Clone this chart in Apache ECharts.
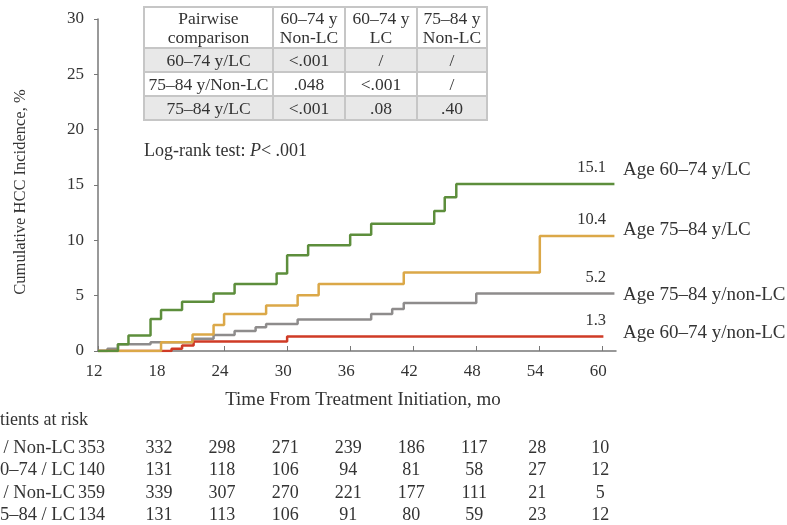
<!DOCTYPE html>
<html>
<head>
<meta charset="utf-8">
<title>Cumulative HCC Incidence</title>
<script src="https://cdn.jsdelivr.net/npm/echarts@6.0.0/dist/echarts.min.js"></script>
<style>
  html, body { margin: 0; padding: 0; background: #fff; }
  #container { width: 787px; height: 525px; }
</style>
</head>
<body>
<div id="container"></div>
<script type="text/javascript">

// x axis ticks, months
var months = [12, 18, 24, 30, 36, 42, 48, 54, 60];

// step curves: time of each step (mo) and cumulative incidence after it (%)
var lc6074T = [12, 13.9, 14.9, 17, 18, 20, 23, 25, 29, 30, 32, 36, 38, 44, 45, 46.1, 61.15];
var lc6074V = [0, 0.6, 1.4, 2.9, 3.7, 4.45, 5.2, 6.05, 7.0, 8.65, 9.55, 10.5, 11.5, 12.65, 13.9, 15.1, 15.1];
var lc7584T = [12, 18, 21, 23, 24, 28, 31, 33, 41.1, 54.05, 61.15];
var lc7584V = [0, 0.78, 1.5, 2.35, 3.35, 4.12, 5.03, 6.06, 7.1, 10.4, 10.4];
var non7584T = [12, 12.9, 13.9, 17, 21, 23, 25, 27, 28, 31, 38, 40, 41.1, 48, 61.15];
var non7584V = [0, 0.2, 0.6, 0.8, 1.1, 1.45, 1.8, 2.15, 2.45, 2.85, 3.35, 3.8, 4.33, 5.2, 5.2];
var non6074T = [12, 19, 20, 21.1, 30, 60.1];
var non6074V = [0, 0.2, 0.5, 0.85, 1.3, 1.3];

var groupNames = ['Age 60–74 y/LC', 'Age 75–84 y/LC', 'Age 75–84 y/non-LC', 'Age 60–74 y/non-LC'];
var endValues = ['15.1', '10.4', '5.2', '1.3'];

// patients at risk
var riskGroups = ['60–74 / Non-LC', '60–74 / LC', '75–84 / Non-LC', '75–84 / LC'];
var riskNon6074 = [353, 332, 298, 271, 239, 186, 117, 28, 10];
var riskLC6074 = [140, 131, 118, 106, 94, 81, 58, 27, 12];
var riskNon7584 = [359, 339, 307, 270, 221, 177, 111, 21, 5];
var riskLC7584 = [134, 131, 113, 106, 91, 80, 59, 23, 12];

// pairwise comparison table
var pairHeader = ['Pairwise\ncomparison', '60–74 y\nNon-LC', '60–74 y\nLC', '75–84 y\nNon-LC'];
var pairRows = ['60–74 y/LC', '75–84 y/Non-LC', '75–84 y/LC'];
var pairValues = [
    ['<.001', '/', '/'],
    ['.048', '<.001', '/'],
    ['<.001', '.08', '.40']
];

var FONT = 'Liberation Serif';
var TXT = '#333';
var colors = ['#5d8e3c', '#dba848', '#8e8c8c', '#cf3b26'];

function zip(t, v) {
    var out = [];
    for (var i = 0; i < t.length; i++) out.push([t[i], v[i]]);
    return out;
}

var curves = [zip(lc6074T, lc6074V), zip(lc7584T, lc7584V), zip(non7584T, non7584V), zip(non6074T, non6074V)];
// draw order: grey, red, orange, green on top
var drawOrder = [2, 3, 1, 0];

var dom = document.getElementById('container');
var myChart = echarts.init(dom, null, { renderer: 'canvas' });

var series = [];
drawOrder.forEach(function (k, n) {
    series.push({
        name: groupNames[k],
        type: 'line',
        step: 'end',
        symbol: 'none',
        silent: true,
        z: 2 + n,
        lineStyle: { color: colors[k], width: 2.5 },
        data: curves[k]
    });
});

var option = {
    animation: false,
    backgroundColor: '#fff',
    grid: { left: 98, right: 171, top: 19, bottom: 174, containLabel: false },
    xAxis: {
        type: 'value',
        min: 12,
        max: 61.3,
        interval: 6,
        axisLine: { lineStyle: { color: '#777', width: 1.5 } },
        axisTick: { inside: true, length: 5, customValues: months, lineStyle: { color: '#777' } },
        axisLabel: { customValues: months, color: TXT, fontFamily: FONT, fontSize: 17, margin: 12, padding: [0, 8, 0, 0] },
        splitLine: { show: false }
    },
    yAxis: {
        type: 'value',
        min: 0,
        max: 30,
        interval: 5,
        axisLine: { show: true, lineStyle: { color: '#777', width: 1.5 } },
        axisTick: { show: true, length: 4, lineStyle: { color: '#777' } },
        axisLabel: { color: TXT, fontFamily: FONT, fontSize: 17, margin: 14 },
        splitLine: { show: false }
    },
    series: series
};

myChart.setOption(option);

function txt(text, x, y, align, size, extra) {
    var st = {
        text: text, x: x, y: y, fill: TXT,
        fontFamily: FONT, fontSize: size || 16,
        align: align || 'left', verticalAlign: 'middle'
    };
    if (extra) for (var k in extra) st[k] = extra[k];
    return { type: 'text', silent: true, z: 20, style: st };
}

function buildGraphics() {
    var g = [];

    // pairwise table
    var colX = [144, 273, 345, 417, 487];
    var rowY = [7, 48, 72, 96, 120];
    for (var r = 0; r < 4; r++) {
        for (var c = 0; c < 4; c++) {
            var fill = (r === 1 || r === 3) ? '#e8e8e8' : '#fff';
            g.push({
                type: 'rect', silent: true, z: 10,
                shape: { x: colX[c], y: rowY[r], width: colX[c + 1] - colX[c], height: rowY[r + 1] - rowY[r] },
                style: { fill: fill, stroke: '#c6c6c6', lineWidth: 2 }
            });
            var t;
            if (r === 0) t = pairHeader[c];
            else if (c === 0) t = pairRows[r - 1];
            else t = pairValues[r - 1][c - 1];
            g.push(txt(t, (colX[c] + colX[c + 1]) / 2, (rowY[r] + rowY[r + 1]) / 2 + 1, 'center', 17.5,
                { lineHeight: 19 }));
        }
    }

    // log-rank
    g.push({
        type: 'text', silent: true, z: 20,
        style: {
            x: 144, y: 151, verticalAlign: 'middle',
            text: '{n|Log-rank test: }{i|P}{n|< .001}',
            rich: {
                n: { fontFamily: FONT, fontSize: 18, fill: TXT },
                i: { fontFamily: FONT, fontSize: 18, fill: TXT, fontStyle: 'italic' }
            }
        }
    });

    // end values and group labels
    var nameY = [170, 230, 295, 333];
    for (var k = 0; k < 4; k++) {
        var last = curves[k][curves[k].length - 1];
        var p = myChart.convertToPixel({ gridIndex: 0 }, last);
        g.push(txt(endValues[k], 606, p[1] - 16, 'right', 16.5));
        g.push(txt(groupNames[k], 623, nameY[k], 'left', 19));
    }

    // axis names
    g.push({
        type: 'text', silent: true, z: 20, x: 21, y: 192, rotation: Math.PI / 2,
        style: { text: 'Cumulative HCC Incidence, %', fill: TXT, fontFamily: FONT, fontSize: 16.5, align: 'center', verticalAlign: 'middle' }
    });
    g.push(txt('Time From Treatment Initiation, mo', 363, 400, 'center', 19));

    // patients at risk
    g.push(txt('Patients at risk', -18, 420, 'left', 18));
    var riskRows = [riskNon6074, riskLC6074, riskNon7584, riskLC7584];
    var riskY = [448, 470, 493, 515];
    for (var i = 0; i < 4; i++) {
        g.push(txt(riskGroups[i], 75, riskY[i], 'right', 18.5));
        for (var j = 0; j < months.length; j++) {
            if (j === 0) {
                g.push(txt(String(riskRows[i][j]), 78, riskY[i], 'left', 18));
            } else {
                var px = myChart.convertToPixel({ xAxisIndex: 0 }, months[j]);
                g.push(txt(String(riskRows[i][j]), px - 2, riskY[i], 'center', 18));
            }
        }
    }
    return g;
}

myChart.setOption({ graphic: buildGraphics() });

window.addEventListener('resize', myChart.resize);
</script>
</body>
</html>
